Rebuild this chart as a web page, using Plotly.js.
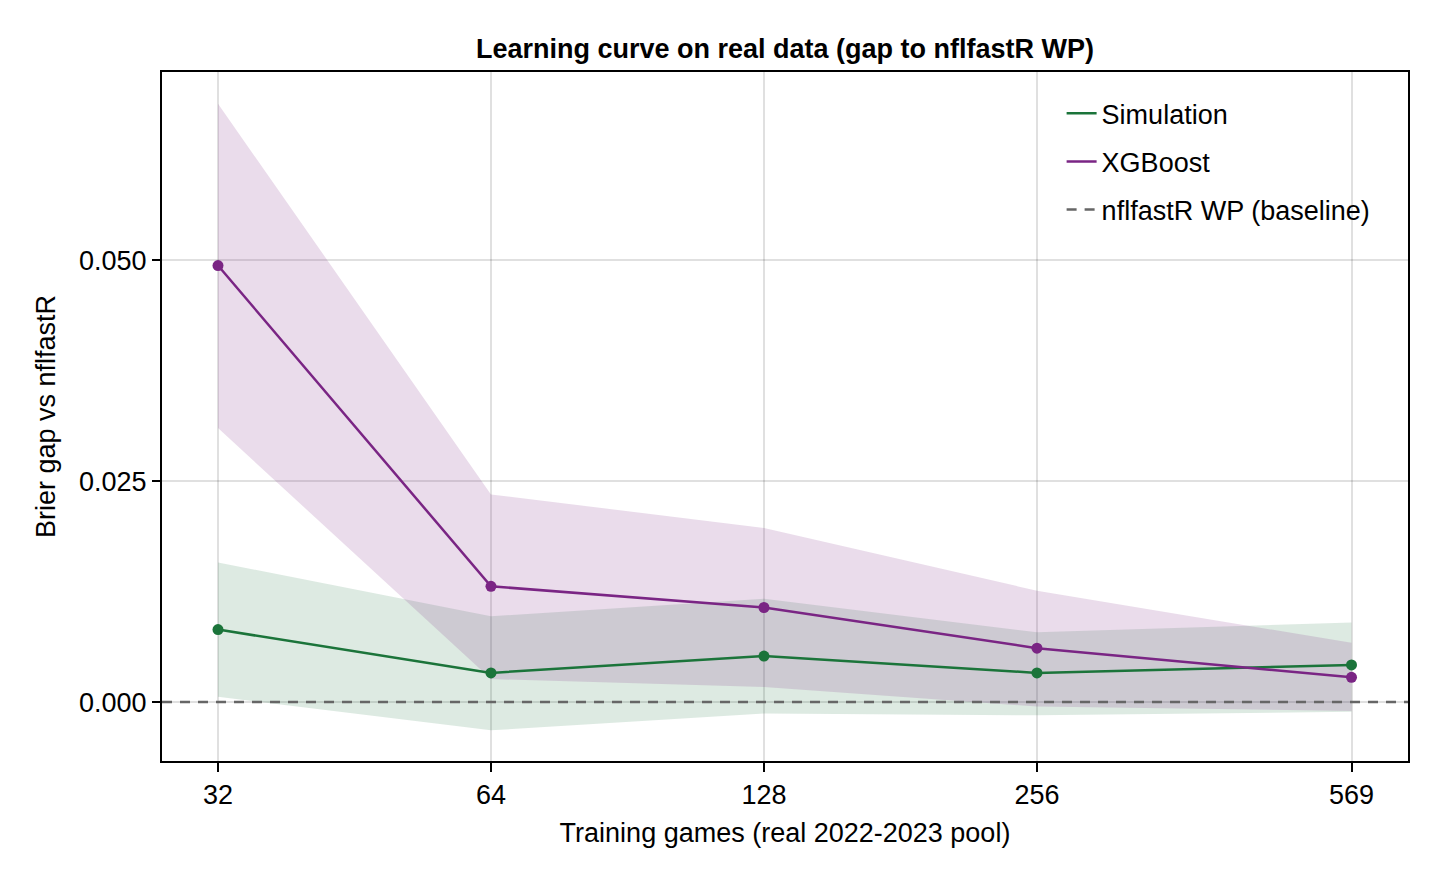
<!DOCTYPE html>
<html>
<head>
<meta charset="utf-8">
<script src="https://cdn.plot.ly/plotly-3.0.1.min.js"></script>
<style>
  html, body { margin: 0; padding: 0; background: #fff; }
  #chart { width: 1440px; height: 880px; }
</style>
</head>
<body>
<div id="chart"></div>
<script>
// training set sizes (games)
const games = [32, 64, 128, 256, 569];
const tickLabels = ['32', '64', '128', '256', '569'];

// Brier gap vs nflfastR, mean and band
const simMean  = [0.0082, 0.0033, 0.0052, 0.0033, 0.0042];
const simUpper = [0.0158, 0.0097, 0.0117, 0.0079, 0.0090];
const simLower = [0.0006, -0.0032, -0.0013, -0.0015, -0.0011];

const xgbMean  = [0.0494, 0.0131, 0.0107, 0.0061, 0.0028];
const xgbUpper = [0.0677, 0.0235, 0.0197, 0.0126, 0.0067];
const xgbLower = [0.0310, 0.0026, 0.0017, -0.0005, -0.0010];

const baseline = [0, 0];

const green = '#1b743a';
const purple = '#7a2584';
const font = 'Liberation Sans, Arial, sans-serif';
const fs = 27;

// x range of the axis (log10 units)
const xRange = [1.4434, 2.8174];
const xEdges = xRange.map(v => Math.pow(10, v));

function band(upper, lower, color) {
  return {
    x: games.concat(games.slice().reverse()),
    y: upper.concat(lower.slice().reverse()),
    type: 'scatter',
    mode: 'lines',
    fill: 'toself',
    fillcolor: color,
    line: {width: 0},
    hoverinfo: 'skip',
    showlegend: false
  };
}

function series(y, name, color, rank) {
  return [
    {
      x: games, y: y, type: 'scatter', mode: 'lines',
      name: name, legendgroup: name, legendrank: rank,
      line: {color: color, width: 2.5}
    },
    {
      x: games, y: y, type: 'scatter', mode: 'markers',
      name: name, legendgroup: name, showlegend: false,
      marker: {color: color, size: 11}
    }
  ];
}

const data = [
  band(simUpper, simLower, 'rgba(27,116,58,0.15)'),
  band(xgbUpper, xgbLower, 'rgba(122,37,132,0.16)'),
  {
    x: xEdges,
    y: baseline,
    type: 'scatter',
    mode: 'lines',
    name: 'nflfastR WP (baseline)',
    legendgroup: 'base', legendrank: 3,
    line: {color: '#666666', width: 2.5, dash: '10px,8px'}
  }
].concat(series(simMean, 'Simulation', green, 1))
 .concat(series(xgbMean, 'XGBoost', purple, 2));

const layout = {
  width: 1440,
  height: 880,
  margin: {l: 162, r: 32, t: 72, b: 119},
  paper_bgcolor: '#ffffff',
  plot_bgcolor: '#ffffff',
  font: {family: font, size: fs, color: '#000'},
  title: {
    text: '<b>Learning curve on real data (gap to nflfastR WP)</b>',
    font: {family: font, size: fs, color: '#000'},
    x: 0.5, xref: 'paper', xanchor: 'center',
    y: 1 - 49 / 880, yanchor: 'middle'
  },
  xaxis: {
    type: 'log',
    range: xRange,
    tickvals: games,
    ticktext: tickLabels,
    ticks: 'outside',
    ticklen: 9,
    tickwidth: 1.5,
    tickcolor: '#000',
    showline: true,
    linecolor: '#000',
    linewidth: 2,
    mirror: true,
    showgrid: true,
    gridcolor: 'rgba(0,0,0,0.12)',
    gridwidth: 1.5,
    zeroline: false,
    tickfont: {family: font, size: fs},
    title: {text: 'Training games (real 2022-2023 pool)', standoff: 14, font: {family: font, size: fs}}
  },
  yaxis: {
    range: [-0.00667, 0.0713],
    tickvals: [0, 0.025, 0.05],
    tickformat: '.3f',
    ticks: 'outside',
    ticklen: 8,
    tickwidth: 1.5,
    tickcolor: '#000',
    showline: true,
    linecolor: '#000',
    linewidth: 2,
    mirror: true,
    showgrid: true,
    gridcolor: 'rgba(0,0,0,0.12)',
    gridwidth: 1.5,
    zeroline: false,
    tickfont: {family: font, size: fs},
    title: {text: 'Brier gap vs nflfastR', standoff: 16, font: {family: font, size: fs}}
  },
  legend: {
    x: 0.722, y: 0.975,
    xanchor: 'left', yanchor: 'top',
    bgcolor: 'rgba(0,0,0,0)',
    borderwidth: 0,
    font: {family: font, size: fs},
    traceorder: 'grouped',
    tracegroupgap: 10
  },
  showlegend: true
};

Plotly.newPlot('chart', data, layout, {displayModeBar: false});
</script>
</body>
</html>
